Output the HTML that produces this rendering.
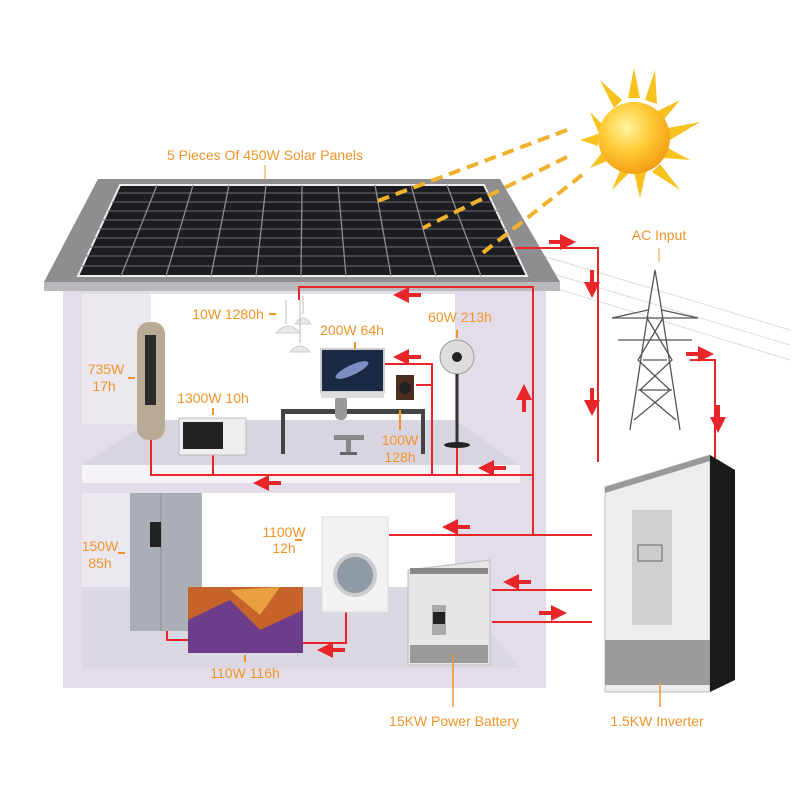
<!DOCTYPE html>
<html><head><meta charset="utf-8"><style>
html,body{margin:0;padding:0;background:#fff}
svg{display:block}
text{font-family:"Liberation Sans",sans-serif;font-size:14px;fill:#f0942a}
</style></head><body>
<svg width="800" height="800" viewBox="0 0 800 800" xmlns="http://www.w3.org/2000/svg">
<defs>
<radialGradient id="sun" cx="0.4" cy="0.35" r="0.7"><stop offset="0" stop-color="#fff6a0"/><stop offset="0.5" stop-color="#ffc933"/><stop offset="1" stop-color="#f29a12"/></radialGradient>
<marker id="a" viewBox="0 0 10 10" refX="5" refY="5" markerWidth="4" markerHeight="4" orient="auto"><path d="M0,0 L10,5 L0,10z" fill="#e8262a"/></marker>
</defs>
<!-- power lines to tower -->
<g stroke="#ddd" stroke-width="1">
<line x1="540" y1="255" x2="790" y2="330"/><line x1="540" y1="270" x2="790" y2="345"/><line x1="545" y1="285" x2="790" y2="360"/>
</g>
<!-- sun -->
<g fill="#f7c21e">
<polygon points="634,68 628,98 640,98"/><polygon points="655,70 645,100 657,104"/><polygon points="600,80 614,108 622,100"/>
<polygon points="680,100 656,112 662,122"/><polygon points="700,122 668,128 670,140"/><polygon points="590,112 606,128 600,136"/>
<polygon points="580,140 598,134 598,146"/><polygon points="690,160 668,148 664,158"/><polygon points="590,168 604,150 610,160"/>
<polygon points="680,190 660,164 652,172"/><polygon points="612,190 622,166 630,172"/><polygon points="640,198 634,172 646,172"/>
</g>
<circle cx="634" cy="138" r="36" fill="url(#sun)"/>
<!-- roof -->
<polygon points="98,179 500,179 560,282 44,282" fill="#8e8e90"/>
<rect x="44" y="282" width="516" height="9" fill="#b9b9bd"/>
<!-- panel -->
<polygon points="120,185 484,185 527,276 78,276" fill="#1c1d20" stroke="#eee" stroke-width="2"/>
<g stroke="#6b6d72" stroke-width="1">
<line x1="117" y1="193" x2="488" y2="193"/><line x1="112" y1="202" x2="492" y2="202"/><line x1="108" y1="211" x2="497" y2="211"/><line x1="103" y1="220" x2="501" y2="220"/><line x1="99" y1="229" x2="505" y2="229"/><line x1="95" y1="238" x2="509" y2="238"/><line x1="90" y1="247" x2="514" y2="247"/><line x1="86" y1="256" x2="518" y2="256"/><line x1="82" y1="266" x2="522" y2="266"/>
</g>
<g stroke="#8a8c90" stroke-width="1.3">
<line x1="157" y1="185" x2="121" y2="276"/><line x1="193" y1="185" x2="166" y2="276"/><line x1="229" y1="185" x2="211" y2="276"/><line x1="266" y1="185" x2="256" y2="276"/><line x1="302" y1="185" x2="301" y2="276"/><line x1="338" y1="185" x2="346" y2="276"/><line x1="375" y1="185" x2="391" y2="276"/><line x1="411" y1="185" x2="436" y2="276"/><line x1="447" y1="185" x2="481" y2="276"/>
</g>
<!-- sun dashes -->
<g stroke="#f0b22a" stroke-width="4" stroke-dasharray="12,7">
<line x1="567" y1="130" x2="375" y2="202"/><line x1="567" y1="157" x2="423" y2="228"/><line x1="582" y1="175" x2="480" y2="255"/>
</g>
<!-- house -->
<rect x="63" y="291" width="483" height="397" fill="#e2dde8"/>
<rect x="82" y="294" width="373" height="130" fill="#ebe8f0"/>
<rect x="151" y="294" width="304" height="126" fill="#fff"/>
<polygon points="82,465 151,420 455,420 520,465" fill="#d9d5e0"/>
<rect x="82" y="465" width="438" height="18" fill="#f6f4f8"/>
<rect x="82" y="493" width="373" height="94" fill="#ebe8f0"/>
<rect x="151" y="493" width="304" height="94" fill="#fff"/>
<polygon points="82,668 82,587 455,587 520,668" fill="#dcd8e2"/>
<!-- red wiring -->
<g stroke="#e8262a" stroke-width="2" fill="none">
<polyline points="515,248 598,248 598,462"/>
<polyline points="299,300 299,287 533,287 533,535 592,535"/>
<line x1="389" y1="535" x2="533" y2="535"/>
<polyline points="151,438 151,475 533,475"/>
<line x1="213" y1="423" x2="213" y2="475"/>
<polyline points="385,364 432,364 432,475"/>
<line x1="416" y1="385" x2="432" y2="385"/>
<line x1="457" y1="438" x2="457" y2="475"/>
<line x1="492" y1="590" x2="592" y2="590"/>
<line x1="492" y1="622" x2="592" y2="622"/>
<polyline points="346,612 346,643 302,643"/>
<polyline points="167,630 167,640 188,640"/>
<polyline points="690,360 715,360 715,458"/>
</g>
<g stroke="#e8262a" stroke-width="4" marker-end="url(#a)">
<line x1="549" y1="242" x2="568" y2="242"/>
<line x1="592" y1="270" x2="592" y2="290"/>
<line x1="592" y1="388" x2="592" y2="408"/>
<line x1="421" y1="295" x2="401" y2="295"/>
<line x1="421" y1="357" x2="401" y2="357"/>
<line x1="524" y1="412" x2="524" y2="392"/>
<line x1="506" y1="468" x2="486" y2="468"/>
<line x1="281" y1="483" x2="261" y2="483"/>
<line x1="470" y1="527" x2="450" y2="527"/>
<line x1="531" y1="582" x2="511" y2="582"/>
<line x1="539" y1="613" x2="559" y2="613"/>
<line x1="345" y1="650" x2="325" y2="650"/>
<line x1="686" y1="354" x2="706" y2="354"/>
<line x1="718" y1="405" x2="718" y2="425"/>
</g>
<!-- tower -->
<g stroke="#555" stroke-width="1.3" fill="none">
<polyline points="630,430 650,300 655,270 660,300 680,430"/>
<line x1="612" y1="318" x2="698" y2="318"/><line x1="618" y1="340" x2="692" y2="340"/>
<line x1="612" y1="318" x2="648" y2="310"/><line x1="698" y1="318" x2="662" y2="310"/>
<polyline points="647,318 672,360 640,390 676,420"/><polyline points="663,318 638,360 670,390 634,420"/>
<line x1="643" y1="360" x2="667" y2="360"/><line x1="638" y1="390" x2="672" y2="390"/>
</g>
<!-- lamps -->
<g fill="#e9e9e9" stroke="#ccc"><path d="M276,333 q12,-14 24,0z"/><path d="M290,352 q10,-12 20,0z"/><path d="M295,324 q8,-12 16,0z"/></g>
<g stroke="#bbb"><line x1="286" y1="300" x2="286" y2="324"/><line x1="300" y1="300" x2="300" y2="343"/><line x1="303" y1="296" x2="303" y2="314"/></g>
<!-- tower AC -->
<rect x="137" y="322" width="28" height="118" rx="12" fill="#b9aa95"/>
<rect x="145" y="335" width="11" height="70" fill="#2a2a2a"/>
<!-- microwave -->
<rect x="179" y="418" width="67" height="37" fill="#eee" stroke="#bbb"/>
<rect x="183" y="422" width="40" height="27" fill="#222"/>
<!-- desk -->
<rect x="281" y="409" width="85" height="5" fill="#444"/>
<rect x="281" y="409" width="4" height="45" fill="#444"/><rect x="421" y="409" width="4" height="45" fill="#444"/>
<rect x="366" y="409" width="59" height="5" fill="#444"/>
<rect x="335" y="395" width="12" height="25" rx="5" fill="#999"/>
<rect x="334" y="435" width="30" height="5" fill="#888"/><rect x="346" y="440" width="5" height="12" fill="#888"/><rect x="340" y="452" width="17" height="3" fill="#666"/>
<!-- monitor -->
<rect x="321" y="349" width="63" height="43" fill="#1a2a45" stroke="#ccc" stroke-width="2"/>
<rect x="321" y="392" width="63" height="6" fill="#ddd"/>
<ellipse cx="352" cy="370" rx="18" ry="5" fill="#7c8fc0" transform="rotate(-25 352 370)"/>
<rect x="396" y="375" width="18" height="25" fill="#4a2e20"/><circle cx="405" cy="388" r="6" fill="#222"/>
<!-- fan -->
<circle cx="457" cy="357" r="17" fill="#ddd" stroke="#999"/><circle cx="457" cy="357" r="5" fill="#222"/>
<line x1="457" y1="374" x2="457" y2="445" stroke="#333" stroke-width="3"/>
<ellipse cx="457" cy="445" rx="13" ry="3" fill="#222"/>
<!-- fridge -->
<rect x="130" y="493" width="72" height="138" fill="#a9afb4"/>
<line x1="161" y1="493" x2="161" y2="631" stroke="#8a9095"/>
<rect x="150" y="522" width="11" height="25" fill="#222"/>
<!-- TV -->
<rect x="188" y="587" width="115" height="66" fill="#c5632a"/>
<polygon points="188,620 230,600 260,630 303,610 303,653 188,653" fill="#6b3d8a"/>
<polygon points="230,590 280,587 260,615" fill="#e8a040"/>
<!-- washer -->
<rect x="322" y="517" width="66" height="95" fill="#f2f2f2" stroke="#ddd"/>
<circle cx="355" cy="575" r="20" fill="#8f9aa6" stroke="#ccc" stroke-width="4"/>
<!-- battery -->
<polygon points="408,570 490,560 490,665 408,665" fill="#e6e6e6" stroke="#bbb"/>
<rect x="410" y="568" width="78" height="6" fill="#888"/>
<rect x="432" y="605" width="14" height="30" fill="#aaa"/><rect x="433" y="612" width="12" height="12" fill="#222"/>
<rect x="410" y="645" width="78" height="18" fill="#9a9a9a"/>
<!-- inverter -->
<polygon points="605,487 710,455 710,692 605,692" fill="#ededed" stroke="#bbb"/>
<polygon points="710,455 735,470 735,680 710,692" fill="#1a1a1a"/>
<polygon points="605,487 710,455 710,461 605,493" fill="#999"/>
<rect x="632" y="510" width="40" height="115" fill="#d0d0d0"/>
<rect x="638" y="545" width="24" height="16" fill="#ccc" stroke="#666"/>
<rect x="605" y="640" width="105" height="45" fill="#9b9b9b"/>
<!-- labels -->
<text x="265" y="160" text-anchor="middle">5 Pieces Of 450W Solar Panels</text>
<line x1="265" y1="165" x2="265" y2="180" stroke="#f0942a"/>
<text x="659" y="240" text-anchor="middle">AC Input</text>
<line x1="659" y1="248" x2="659" y2="262" stroke="#f0942a"/>
<g stroke="#f0942a" stroke-width="2">
<line x1="269" y1="314" x2="276" y2="314"/><line x1="355" y1="342" x2="355" y2="349"/><line x1="457" y1="330" x2="457" y2="338"/>
<line x1="128" y1="378" x2="135" y2="378"/><line x1="213" y1="408" x2="213" y2="415"/><line x1="400" y1="410" x2="400" y2="430"/>
<line x1="295" y1="540" x2="302" y2="540"/><line x1="118" y1="553" x2="125" y2="553"/><line x1="245" y1="655" x2="245" y2="662"/>
<line x1="453" y1="655" x2="453" y2="707" stroke-width="1.5"/><line x1="660" y1="683" x2="660" y2="707" stroke-width="1.5"/>
</g>
<text x="228" y="319" text-anchor="middle">10W 1280h</text>
<text x="352" y="335" text-anchor="middle">200W 64h</text>
<text x="460" y="322" text-anchor="middle">60W 213h</text>
<text x="106" y="374" text-anchor="middle">735W</text><text x="104" y="391" text-anchor="middle">17h</text>
<text x="213" y="403" text-anchor="middle">1300W 10h</text>
<text x="400" y="445" text-anchor="middle">100W</text><text x="400" y="462" text-anchor="middle">128h</text>
<text x="284" y="537" text-anchor="middle">1100W</text><text x="284" y="553" text-anchor="middle">12h</text>
<text x="100" y="551" text-anchor="middle">150W</text><text x="100" y="568" text-anchor="middle">85h</text>
<text x="245" y="678" text-anchor="middle">110W 116h</text>
<text x="454" y="726" text-anchor="middle">15KW Power Battery</text>
<text x="657" y="726" text-anchor="middle">1.5KW Inverter</text>
</svg>
</body></html>
